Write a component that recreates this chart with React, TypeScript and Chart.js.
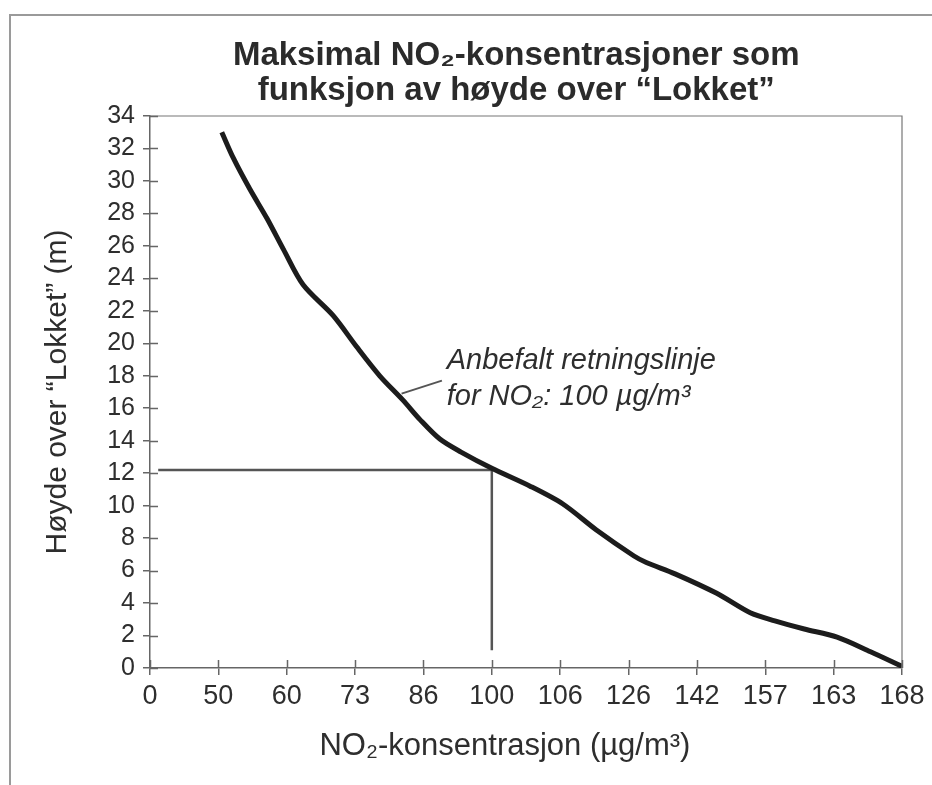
import { useEffect, useRef } from "react";
import { Chart, registerables } from "chart.js";

Chart.register(...registerables);

const FONT = "'Liberation Sans', Arial, Helvetica, sans-serif";

const titleLines = ["Maksimal NO₂-konsentrasjoner som", "funksjon av høyde over “Lokket”"];
const xAxisTitle = "NO₂-konsentrasjon (µg/m³)";
const yAxisTitle = "Høyde over “Lokket” (m)";
const noteLines = ["Anbefalt retningslinje", "for NO₂: 100 µg/m³"];

// x axis: evenly spaced category ticks (index 0..11) carrying these labels
const xTickLabels = ["0", "50", "60", "73", "86", "100", "106", "126", "142", "157", "163", "168"];

// curve, x given in tick-index units along the axis, y = height (m)
const curvePos = [1.05, 1.22, 1.46, 1.71, 1.95, 2.24, 2.68, 3.02, 3.36, 3.7, 3.95, 4.24, 4.55, 5.0, 5.56, 6.04, 6.53, 7.08, 7.26, 7.68, 8.29, 8.78, 9.14, 9.57, 10.05, 10.54, 11.0];
const curveHeight = [33.0, 31.4, 29.5, 27.7, 25.8, 23.6, 21.7, 19.8, 18.0, 16.5, 15.3, 14.1, 13.3, 12.3, 11.2, 10.1, 8.5, 6.9, 6.5, 5.8, 4.6, 3.4, 2.9, 2.4, 1.9, 1.0, 0.1];

// guideline at the recommended limit (100 µg/m³ -> index 5)
const guidePos = [0.12, 5, 5];
const guideHeight = [12.2, 12.2, 1.1];

// callout line from curve to note
const calloutPos = [3.68, 4.27];
const calloutHeight = [16.9, 17.7];

// note anchor
const notePos = 4.34;
const noteHeight = [18.4, 16.2];

const decorPlugin = {
  id: "decor",
  beforeDraw(chart: any) {
    const ctx = chart.ctx;
    ctx.save();
    ctx.fillStyle = "#ffffff";
    ctx.fillRect(0, 0, chart.width, chart.height);
    ctx.strokeStyle = "#9a9a9a";
    ctx.lineWidth = 2;
    ctx.beginPath();
    ctx.moveTo(10, chart.height);
    ctx.lineTo(10, 15);
    ctx.lineTo(chart.width, 15);
    ctx.stroke();
    ctx.restore();
  },
  afterDraw(chart: any) {
    const { ctx, chartArea: a, scales } = chart;
    const xs = scales.x;
    const ys = scales.y;
    ctx.save();
    ctx.strokeStyle = "#777";
    ctx.lineWidth = 1.2;
    ctx.beginPath();
    ctx.moveTo(a.left, a.top);
    ctx.lineTo(a.right, a.top);
    ctx.lineTo(a.right, a.bottom);
    ctx.stroke();

    ctx.strokeStyle = "#666";
    ctx.lineWidth = 1.5;
    ctx.beginPath();
    xs.ticks.forEach((t: any) => {
      const px = Math.round(xs.getPixelForValue(t.value)) + 0.5;
      ctx.moveTo(px, a.bottom);
      ctx.lineTo(px, a.bottom - 8);
    });
    ys.ticks.forEach((t: any) => {
      const py = Math.round(ys.getPixelForValue(t.value)) + 0.5;
      ctx.moveTo(a.left, py);
      ctx.lineTo(a.left + 8, py);
    });
    ctx.stroke();

    // chart title
    ctx.fillStyle = "#2b2b2b";
    ctx.font = `bold 33px ${FONT}`;
    ctx.textAlign = "center";
    ctx.textBaseline = "alphabetic";
    const tc = a.left + (a.right - a.left) * 0.487;
    ctx.fillText(titleLines[0], tc, 65);
    ctx.fillText(titleLines[1], tc, 100);

    // note
    ctx.fillStyle = "#2e2e2e";
    ctx.font = `italic 29px ${FONT}`;
    ctx.textAlign = "left";
    noteLines.forEach((s, i) => {
      ctx.fillText(s, xs.getPixelForValue(notePos), ys.getPixelForValue(noteHeight[i]));
    });

    // x axis title
    ctx.font = `31px ${FONT}`;
    ctx.textAlign = "center";
    ctx.textBaseline = "middle";
    ctx.fillText(xAxisTitle, a.left + (a.right - a.left) * 0.472, a.bottom + 78);
    ctx.restore();
  },
};

export default function App() {
  const ref = useRef<HTMLCanvasElement | null>(null);

  useEffect(() => {
    if (!ref.current) return;
    const chart = new Chart(ref.current, {
      type: "line",
      data: {
        datasets: [
          {
            data: curvePos.map((x, i) => ({ x, y: curveHeight[i] })),
            borderColor: "#1c1c1c",
            borderWidth: 5,
            pointRadius: 0,
            tension: 0.3,
            borderCapStyle: "butt",
          },
          {
            data: guidePos.map((x, i) => ({ x, y: guideHeight[i] })),
            borderColor: "#555",
            borderWidth: 2.5,
            pointRadius: 0,
            tension: 0,
          },
          {
            data: calloutPos.map((x, i) => ({ x, y: calloutHeight[i] })),
            borderColor: "#555",
            borderWidth: 2,
            pointRadius: 0,
            tension: 0,
          },
        ],
      },
      options: {
        animation: false,
        responsive: true,
        maintainAspectRatio: false,
        layout: { padding: { left: 10, right: 30, top: 116, bottom: 0 } },
        plugins: {
          legend: { display: false },
          tooltip: { enabled: false },
          title: { display: false },
        },
        scales: {
          x: {
            type: "linear",
            min: 0,
            max: 11,
            afterFit: (s: any) => {
              s.height = 117;
            },
            ticks: {
              stepSize: 1,
              autoSkip: false,
              maxRotation: 0,
              padding: 5,
              color: "#2e2e2e",
              font: { family: FONT, size: 27 },
              callback: (v: any) => xTickLabels[v] ?? "",
            },
            grid: { drawOnChartArea: false, drawTicks: true, tickLength: 7, color: "#666", lineWidth: 1.5 },
            border: { display: true, color: "#666", width: 1.5 },
          },
          y: {
            type: "linear",
            min: 0,
            max: 34,
            afterFit: (s: any) => {
              s.width = 140;
            },
            ticks: {
              stepSize: 2,
              autoSkip: false,
              padding: 8,
              color: "#2e2e2e",
              font: { family: FONT, size: 25 },
            },
            title: {
              display: true,
              text: yAxisTitle,
              color: "#2e2e2e",
              font: { family: FONT, size: 30 },
              padding: { top: 30, bottom: 0 },
            },
            grid: { drawOnChartArea: false, drawTicks: true, tickLength: 7, color: "#666", lineWidth: 1.5 },
            border: { display: true, color: "#666", width: 1.5 },
          },
        },
      },
      plugins: [decorPlugin],
    });
    return () => chart.destroy();
  }, []);

  return (
    <div style={{ position: "absolute", left: 0, top: 0, width: 932, height: 785 }}>
      <canvas ref={ref} />
    </div>
  );
}
